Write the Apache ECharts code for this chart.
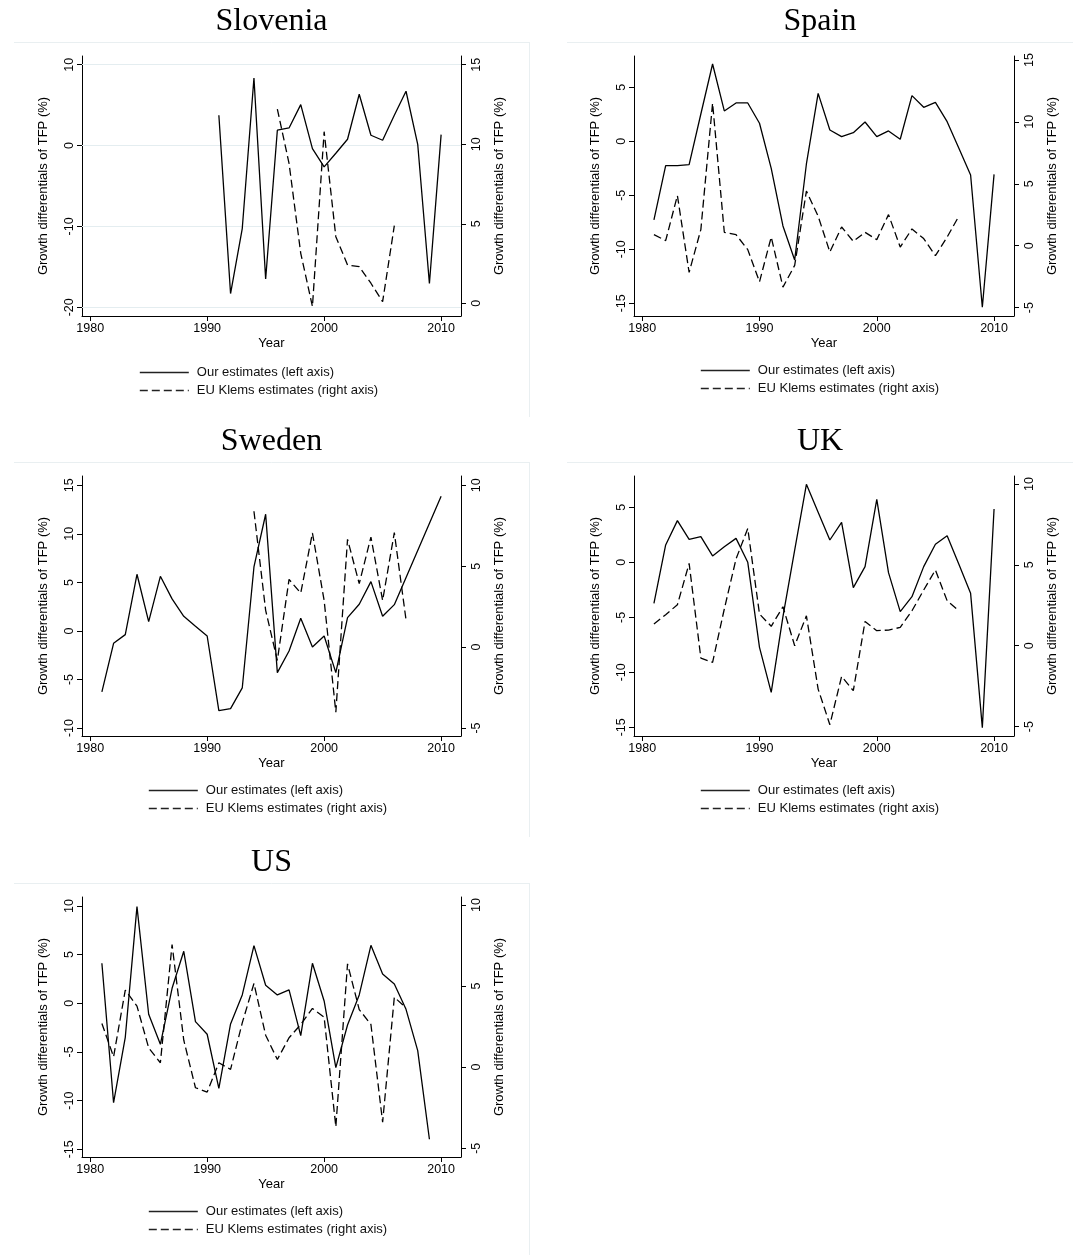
<!DOCTYPE html>
<html><head><meta charset="utf-8">
<script src="https://cdn.jsdelivr.net/npm/echarts@6/dist/echarts.min.js"></script>
<style>html,body{margin:0;padding:0;background:#fff}#c{width:1073px;height:1255px}</style>
</head><body><div id="c"></div>
<script>
// ---- data ----
const years = [1981,1982,1983,1984,1985,1986,1987,1988,1989,1990,1991,1992,1993,1994,1995,1996,1997,1998,1999,2000,2001,2002,2003,2004,2005,2006,2007,2008,2009,2010];
const xTicks = [1980,1990,2000,2010];
const countries = ['Slovenia','Spain','Sweden','UK','US'];
const seriesNames = ['Our estimates (left axis)','EU Klems estimates (right axis)'];
const xTitle = 'Year';
const yTitle = 'Growth differentials of TFP (%)';

const sloveniaOur = [null,null,null,null,null,null,null,null,null,null,3.75,-18.3,-10.26,8.36,-16.5,1.9,2.18,5.07,-0.37,-2.64,-0.95,0.78,6.35,1.28,0.66,3.75,6.72,0.16,-17.06,1.36];
const sloveniaKlems = [null,null,null,null,null,null,null,null,null,null,null,null,null,null,null,12.21,8.8,3.14,-0.2,10.79,4.19,2.41,2.3,1.26,0.1,4.88,null,null,null,null];
const spainOur = [-7.28,-2.25,-2.25,-2.16,2.53,7.16,2.81,3.55,3.55,1.67,-2.5,-7.84,-10.99,-2.1,4.44,1.05,0.43,0.8,1.79,0.43,0.96,0.19,4.23,3.15,3.61,1.82,-0.65,-3.12,-15.37,-3.06];
const spainKlems = [0.89,0.41,4.05,-2.16,1.3,11.51,1.08,0.89,-0.32,-2.92,0.7,-3.35,-1.59,4.41,2.38,-0.51,1.51,0.35,1.08,0.49,2.51,-0.11,1.35,0.57,-0.81,0.7,2.38,null,null,null];
const swedenOur = [-6.28,-1.27,-0.38,5.84,0.96,5.63,3.3,1.51,0.48,-0.52,-8.21,-8.0,-5.87,6.59,12.02,-4.29,-2.06,1.3,-1.65,-0.52,-4.29,1.37,2.75,5.08,1.51,2.71,null,null,null,13.87];
const swedenKlems = [null,null,null,null,null,null,null,null,null,null,null,null,null,8.39,2.27,-0.82,4.18,3.34,7.05,2.88,-4.02,6.66,3.92,6.8,2.88,7.07,1.69,null,null,null];
const ukOur = [-3.73,1.58,3.79,2.09,2.33,0.58,1.42,2.18,0.0,-7.73,-11.82,-4.94,1.12,7.09,4.55,2.03,3.64,-2.3,-0.39,5.73,-0.94,-4.48,-3.12,-0.39,1.64,2.42,-0.18,-2.82,-15.03,4.85];
const ukKlems = [1.34,1.92,2.53,5.09,-0.76,-1.03,2.27,5.36,7.25,1.96,1.2,2.41,0.0,1.85,-2.68,-4.88,-1.9,-2.78,1.5,0.93,0.97,1.13,2.16,3.44,4.68,2.78,2.16,null,null,null];
const usOur = [4.11,-10.21,-3.49,9.93,-1.13,-4.21,1.54,5.34,-1.88,-3.18,-8.73,-2.12,0.86,5.92,1.85,0.86,1.37,-3.32,4.11,0.24,-6.61,-2.23,0.86,5.96,3.01,1.99,-0.62,-4.86,-13.97,null];
const usKlems = [2.69,0.64,4.75,3.76,1.19,0.27,7.56,1.66,-1.27,-1.54,0.27,-0.14,2.73,5.16,1.97,0.47,1.81,2.63,3.62,3.08,-3.68,6.37,3.55,2.63,-3.39,4.31,3.66,null,null,null];

const sloveniaLeftTicks = [-20,-10,0,10];
const sloveniaRightTicks = [0,5,10,15];
const spainLeftTicks = [-15,-10,-5,0,5];
const spainRightTicks = [-5,0,5,10,15];
const swedenLeftTicks = [-10,-5,0,5,10,15];
const swedenRightTicks = [-5,0,5,10];
const ukLeftTicks = [-15,-10,-5,0,5];
const ukRightTicks = [-5,0,5,10];
const usLeftTicks = [-15,-10,-5,0,5,10];
const usRightTicks = [-5,0,5,10];

// ---- layout (not data) ----
const panels = [
  {our: sloveniaOur, klems: sloveniaKlems, lt: sloveniaLeftTicks, rt: sloveniaRightTicks,
   grid:{left:82, top:56, width:379, height:260}, lr:[-21.08,11.08], rr:[-0.8,15.55],
   tx:271.5, ty:6, lg:{left:139, top:366}, gridlines:true},
  {our: spainOur, klems: spainKlems, lt: spainLeftTicks, rt: spainRightTicks,
   grid:{left:634, top:56, width:380, height:260}, lr:[-16.18,7.9], rr:[-5.68,15.32],
   tx:820, ty:6, lg:{left:700, top:364}},
  {our: swedenOur, klems: swedenKlems, lt: swedenLeftTicks, rt: swedenRightTicks,
   grid:{left:82, top:476, width:379, height:260}, lr:[-10.82,15.96], rr:[-5.49,10.57],
   tx:271.5, ty:426, lg:{left:148, top:784}},
  {our: ukOur, klems: ukKlems, lt: ukLeftTicks, rt: ukRightTicks,
   grid:{left:634, top:476, width:380, height:260}, lr:[-15.79,7.85], rr:[-5.58,10.49],
   tx:820, ty:426, lg:{left:700, top:784}},
  {our: usOur, klems: usKlems, lt: usLeftTicks, rt: usRightTicks,
   grid:{left:82, top:897, width:379, height:260}, lr:[-15.79,10.92], rr:[-5.54,10.49],
   tx:271.5, ty:847, lg:{left:148, top:1205}}
];

const FONT = 'Liberation Sans, Arial, sans-serif';
const axisLineStyle = {color:'#000', width:1};
const plain = v => String(v);
const option = {
  animation:false,
  backgroundColor:'#fff',
  title:[], grid:[], xAxis:[], yAxis:[], series:[], legend:[],
  graphic:[]
};

panels.forEach((p, i) => {
  option.title.push({
    text: countries[i], left: p.tx, top: p.ty, textAlign:'center', padding:0,
    textStyle:{fontFamily:'Liberation Serif, Times New Roman, serif', fontSize:32, fontWeight:'normal', color:'#000'}
  });
  option.grid.push(Object.assign({containLabel:false}, p.grid));
  option.xAxis.push({
    type:'value', gridIndex:i, min:1979.3, max:2011.7,
    axisLine:{show:true, onZero:false, lineStyle:axisLineStyle},
    axisTick:{show:true, length:5, customValues:xTicks, lineStyle:axisLineStyle},
    axisLabel:{show:true, customValues:xTicks, formatter:plain, margin:6, fontFamily:FONT, fontSize:12.5, color:'#000'},
    splitLine:{show:false},
    name:xTitle, nameLocation:'middle', nameGap:21,
    nameTextStyle:{fontFamily:FONT, fontSize:13, color:'#000'}
  });
  const mkY = (pos, range, ticks, margin) => ({
    type:'value', gridIndex:i, position:pos, min:range[0], max:range[1],
    axisLine:{show:true, onZero:false, lineStyle:axisLineStyle},
    axisTick:{show:true, length:5, customValues:ticks, lineStyle:axisLineStyle},
    axisLabel:{show:true, customValues:ticks, formatter:plain, rotate:90, margin:margin, fontFamily:FONT, fontSize:12.5, color:'#000'},
    splitLine:{show:false},
    name:yTitle, nameLocation:'middle', nameRotate:90, nameGap:32,
    nameTextStyle:{fontFamily:FONT, fontSize:13, color:'#000'}
  });
  option.yAxis.push(mkY('left', p.lr, p.lt, 6));
  option.yAxis.push(mkY('right', p.rr, p.rt, 9));
  const ourSeries = {
    type:'line', name:seriesNames[0], xAxisIndex:i, yAxisIndex:2*i,
    data: years.map((y,k)=>[y, p.our[k]]), symbol:'none', connectNulls:true,
    lineStyle:{color:'#000', width:1.3, type:'solid'}, itemStyle:{color:'#000'},
    silent:true, z:3
  };
  if (p.gridlines) {
    ourSeries.markLine = {
      silent:true, symbol:['none','none'], label:{show:false}, animation:false,
      lineStyle:{color:'#e4edf0', width:1, type:'solid'},
      data: p.lt.map(v => ({yAxis:v})), z:1
    };
  }
  option.series.push(ourSeries);
  option.series.push({
    type:'line', name:seriesNames[1], xAxisIndex:i, yAxisIndex:2*i+1,
    data: years.map((y,k)=>[y, p.klems[k]]), symbol:'none', connectNulls:true,
    lineStyle:{color:'#000', width:1.3, type:[8,4]}, itemStyle:{color:'#000'},
    silent:true, z:3
  });
  option.legend.push({
    left:p.lg.left, top:p.lg.top, orient:'vertical', itemWidth:49, itemHeight:14, itemGap:5,
    selectedMode:false, padding:0, data:seriesNames.slice(),
    itemStyle:{opacity:0, borderWidth:0},
    lineStyle:{color:'#222', width:1.6},
    textStyle:{fontFamily:FONT, fontSize:13, color:'#111', padding:[0,0,0,3]}
  });
});

// faint sub-graph frames
const frameColor = '#e9eff1';
const frames = [
  [14,42.5,529,42.5],[529.5,42,529.5,417],
  [567,42.5,1073,42.5],
  [14,462.5,529,462.5],[529.5,462,529.5,837],
  [567,462.5,1073,462.5],
  [14,883.5,529,883.5],[529.5,883,529.5,1255]
];
frames.forEach(f => option.graphic.push({
  type:'line', shape:{x1:f[0], y1:f[1], x2:f[2], y2:f[3]}, silent:true,
  style:{stroke:frameColor, lineWidth:1}, z:0
}));

const chart = echarts.init(document.getElementById('c'), null, {renderer:'canvas'});
chart.setOption(option);
</script></body></html>
